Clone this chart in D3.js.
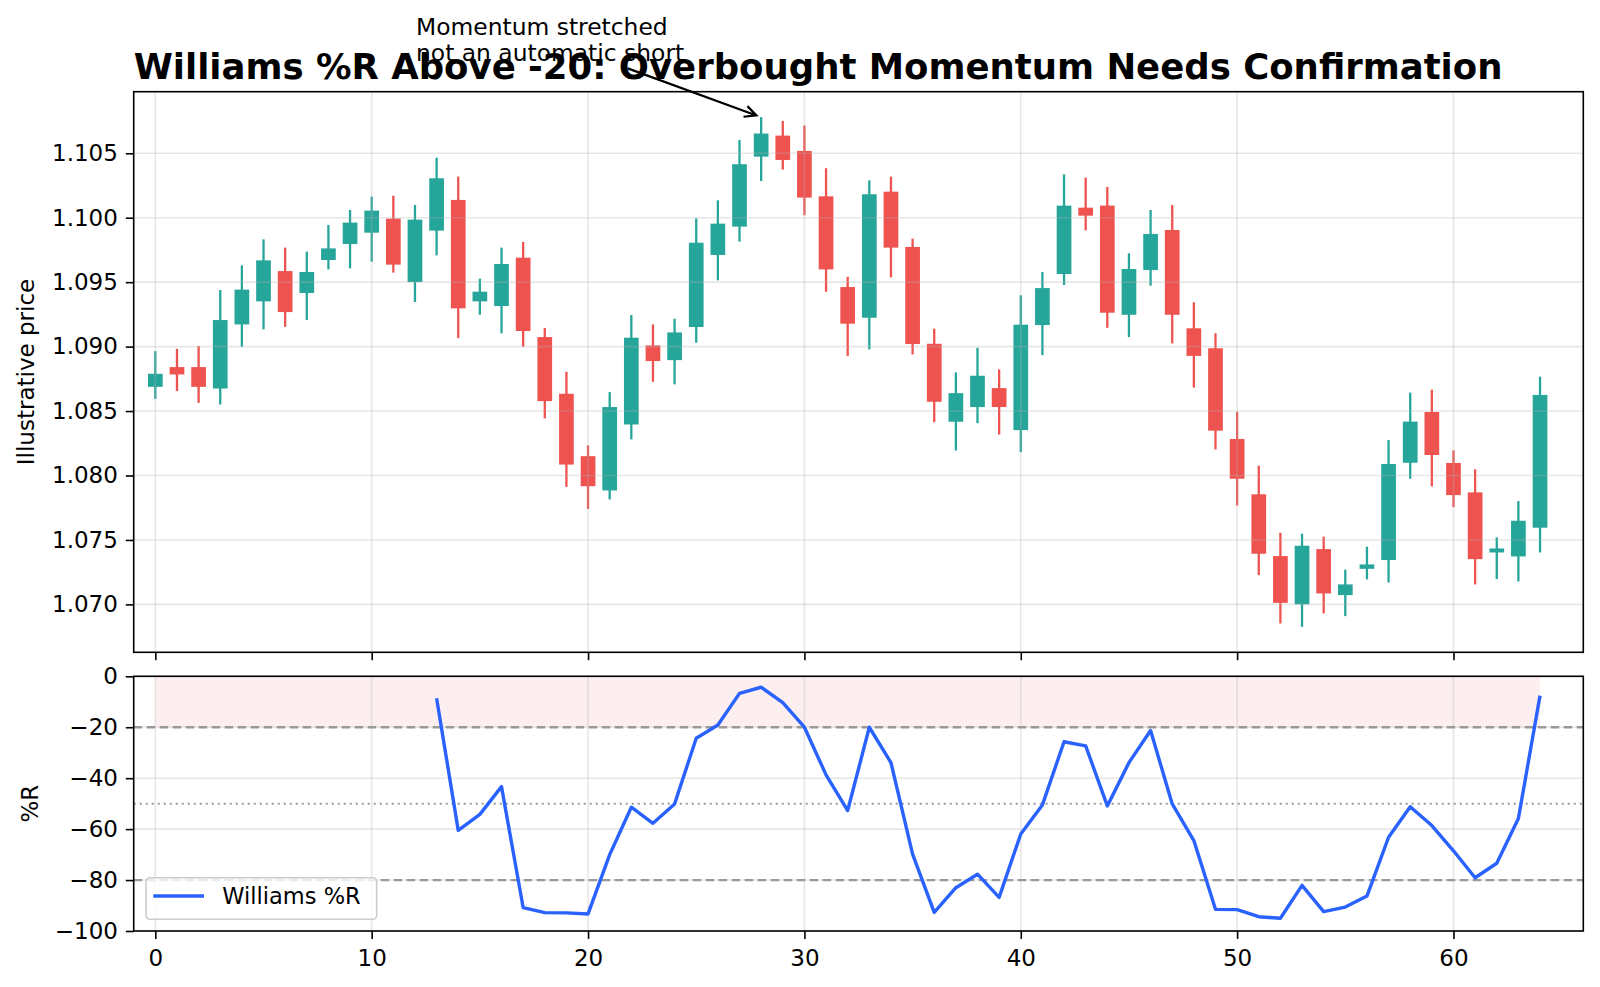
<!DOCTYPE html>
<html>
<head>
<meta charset="utf-8">
<script src="https://cdn.jsdelivr.net/npm/d3@7"></script>
<style>
  body { margin:0; background:#fff; }
  svg { display:block; }
  text { font-family:"DejaVu Sans", sans-serif; fill:#000; }
</style>
</head>
<body>
<div id="chart"></div>
<script>
// candles, one per bar index 0..64
const opens  = [1.08688,1.08841,1.08841,1.08675,1.09172,1.09351,1.09586,1.09416,1.09672,1.09796,
                1.09884,1.09993,1.09501,1.09900,1.10138,1.09351,1.09315,1.09690,1.09074,1.08634,
                1.08150,1.07884,1.08396,1.09009,1.08895,1.09152,1.09711,1.09931,1.10474,1.10637,
                1.10518,1.10166,1.09462,1.09224,1.10202,1.09773,1.09022,1.08417,1.08531,1.08678,
                1.08352,1.09167,1.09563,1.10078,1.10094,1.09247,1.09594,1.09905,1.09142,1.08987,
                1.08283,1.07854,1.07375,1.07000,1.07429,1.07072,1.07276,1.07344,1.08099,1.08493,
                1.08097,1.07869,1.07403,1.07372,1.07595];
const highs  = [1.08965,1.08983,1.09004,1.09439,1.09630,1.09832,1.09768,1.09737,1.09944,1.10060,
                1.10164,1.10171,1.10099,1.10466,1.10319,1.09527,1.09768,1.09812,1.09144,1.08805,
                1.08233,1.08647,1.09245,1.09172,1.09216,1.09995,1.10135,1.10604,1.10780,1.10751,
                1.10715,1.10384,1.09542,1.10290,1.10319,1.09837,1.09139,1.08800,1.08991,1.08823,
                1.09398,1.09579,1.10337,1.10311,1.10239,1.09724,1.10060,1.10099,1.09344,1.09104,
                1.08493,1.08076,1.07556,1.07548,1.07525,1.07269,1.07447,1.08275,1.08643,1.08666,
                1.08195,1.08048,1.07520,1.07802,1.08767];
const lows   = [1.08595,1.08655,1.08564,1.08551,1.08999,1.09134,1.09154,1.09206,1.09599,1.09607,
                1.09659,1.09574,1.09346,1.09708,1.09066,1.09247,1.09103,1.08999,1.08443,1.07912,
                1.07741,1.07814,1.08280,1.08727,1.08707,1.09030,1.09514,1.09814,1.10285,1.10373,
                1.10019,1.09426,1.08927,1.08978,1.09537,1.08939,1.08414,1.08194,1.08406,1.08318,
                1.08181,1.08934,1.09478,1.09902,1.09146,1.09074,1.09473,1.09025,1.08682,1.08203,
                1.07768,1.07227,1.06852,1.06826,1.06930,1.06909,1.07194,1.07170,1.07975,1.07916,
                1.07755,1.07155,1.07196,1.07178,1.07403];
const closes = [1.08789,1.08784,1.08688,1.09206,1.09442,1.09669,1.09268,1.09579,1.09762,1.09962,
                1.10055,1.09636,1.09985,1.10306,1.09297,1.09426,1.09641,1.09121,1.08577,1.08085,
                1.07917,1.08531,1.09069,1.08888,1.09110,1.09806,1.09954,1.10415,1.10653,1.10448,
                1.10156,1.09599,1.09178,1.10182,1.09768,1.09020,1.08572,1.08639,1.08774,1.08531,
                1.09170,1.09454,1.10094,1.10016,1.09263,1.09602,1.09874,1.09247,1.08928,1.08348,
                1.07975,1.07393,1.07012,1.07455,1.07085,1.07155,1.07310,1.08089,1.08418,1.08159,
                1.07848,1.07351,1.07434,1.07649,1.08625];

// williams %R, undefined during the 14 bar warm-up
const pctR = [null,null,null,null,null,null,null,null,null,null,null,null,null,
              -8.6,-60.5,-54.2,-43.3,-90.8,-92.8,-92.9,-93.3,-70.0,-51.4,-57.7,-50.1,
              -24.3,-19.1,-6.7,-4.3,-10.3,-20.0,-38.7,-52.7,-20.0,-33.9,-69.8,-92.7,
              -83.0,-77.7,-86.8,-61.9,-50.5,-25.7,-27.3,-50.9,-33.9,-21.3,-50.1,-64.5,
              -91.5,-91.6,-94.4,-95.0,-82.1,-92.4,-90.6,-86.3,-63.2,-51.2,-58.6,-68.5,
              -79.1,-73.4,-55.8,-7.6];

const xTicks = [0,10,20,30,40,50,60];
const priceTicks = [1.070,1.075,1.080,1.085,1.090,1.095,1.100,1.105];
const rTicks = [0,-20,-40,-60,-80,-100];
const dashedLevels = [-20,-80];
const dottedLevels = [-50];
const zoneBand = [-20, 0];

const titleText = "Williams %R Above -20: Overbought Momentum Needs Confirmation";
const noteLines = ["Momentum stretched","not an automatic short"];
const noteBar = 28;
const seriesName = "Williams %R";
const priceLabel = "Illustrative price";
const rLabel = "%R";

const W = 1600, H = 987;
const L = 133.7, R = 1583.3;
const top1 = 91.7, bot1 = 652.3, top2 = 676.3, bot2 = 931;
const fs = 23, tick = 7.9;
const UP = "#26a69a", DOWN = "#ef5350", LINE = "#2962ff";

const bars = opens.map((o,i) => ({i:i, o:o, h:highs[i], l:lows[i], c:closes[i]}));

const svg = d3.select("#chart").append("svg").attr("width",W).attr("height",H);

const x = d3.scaleLinear().domain([-1, bars.length+1]).range([L,R]);
const lo = d3.min(lows), hi = d3.max(highs), pad = (hi-lo)*0.05;
const yP = d3.scaleLinear().domain([lo-pad, hi+pad]).range([bot1, top1]);
const yR = d3.scaleLinear().domain([-100, 0]).range([bot2, top2]);

svg.append("defs").append("clipPath").attr("id","clipR")
  .append("rect").attr("x",L).attr("y",top2).attr("width",R-L).attr("height",bot2-top2);

function grid(g, yScale, yVals, y0, y1) {
  g.selectAll(".vg").data(xTicks).enter().append("line")
    .attr("x1",d=>x(d)).attr("x2",d=>x(d)).attr("y1",y0).attr("y2",y1);
  g.selectAll(".hg").data(yVals).enter().append("line")
    .attr("x1",L).attr("x2",R).attr("y1",d=>yScale(d)).attr("y2",d=>yScale(d));
  g.selectAll("line").style("stroke","#b0b0b0").style("stroke-opacity",0.3).style("stroke-width",1.6);
}

function styleAxis(g) {
  g.select(".domain").remove();
  g.selectAll(".tick line").style("stroke","#000").style("stroke-width",1.6);
  g.selectAll(".tick text").style("font-size",fs+"px").style("font-family","DejaVu Sans").attr("fill","#000");
}

// ---- price panel
const bw = 0.68*(x(1)-x(0));
const pc = svg.append("g").attr("id","candles");
pc.selectAll(".wick").data(bars).enter().append("line")
  .attr("class","wick")
  .attr("x1",d=>x(d.i)).attr("x2",d=>x(d.i))
  .attr("y1",d=>yP(d.h)).attr("y2",d=>yP(d.l))
  .style("stroke",d=>d.c>=d.o?UP:DOWN).style("stroke-width",2.3);
pc.selectAll(".body").data(bars).enter().append("rect")
  .attr("class","body")
  .attr("x",d=>x(d.i)-bw/2).attr("width",bw)
  .attr("y",d=>yP(Math.max(d.o,d.c)))
  .attr("height",d=>Math.max(2.2, Math.abs(yP(d.o)-yP(d.c))))
  .style("fill",d=>d.c>=d.o?UP:DOWN);

grid(svg.append("g"), yP, priceTicks, top1, bot1);

svg.append("g").attr("transform","translate("+L+",0)")
  .call(d3.axisLeft(yP).tickValues(priceTicks).tickFormat(d3.format(".3f")).tickSize(tick).tickPadding(tick))
  .call(styleAxis);
svg.append("g").attr("transform","translate(0,"+bot1+")")
  .call(d3.axisBottom(x).tickValues(xTicks).tickFormat("").tickSize(tick))
  .call(styleAxis);
svg.append("rect").attr("x",L).attr("y",top1).attr("width",R-L).attr("height",bot1-top1)
  .style("fill","none").style("stroke","#000").style("stroke-width",1.6);

// ---- %R panel
const rData = pctR.map((v,i)=>({i:i, v:v}));
svg.append("path").datum(rData)
  .attr("d", d3.area().x(d=>x(d.i)).y0(yR(zoneBand[0])).y1(yR(zoneBand[1])))
  .style("fill","#e53935").style("fill-opacity",0.08);

grid(svg.append("g"), yR, rTicks, top2, bot2);

svg.selectAll(".dl").data(dashedLevels).enter().append("line")
  .attr("x1",L).attr("x2",R).attr("y1",d=>yR(d)).attr("y2",d=>yR(d))
  .style("stroke","#999").style("stroke-width",2.3).style("stroke-dasharray","8.5,4.5");
svg.selectAll(".ml").data(dottedLevels).enter().append("line")
  .attr("x1",L).attr("x2",R).attr("y1",d=>yR(d)).attr("y2",d=>yR(d))
  .style("stroke","#999").style("stroke-width",2).style("stroke-dasharray","2,4");

svg.append("path").datum(rData)
  .attr("clip-path","url(#clipR)")
  .attr("d", d3.line().defined(d=>d.v!==null).x(d=>x(d.i)).y(d=>yR(d.v)))
  .style("fill","none").style("stroke",LINE).style("stroke-width",3.4)
  .style("stroke-linejoin","round");

svg.append("g").attr("transform","translate("+L+",0)")
  .call(d3.axisLeft(yR).tickValues(rTicks).tickFormat(d3.format("d")).tickSize(tick).tickPadding(tick))
  .call(styleAxis);
svg.append("g").attr("transform","translate(0,"+bot2+")")
  .call(d3.axisBottom(x).tickValues(xTicks).tickSize(tick).tickPadding(10.5))
  .call(styleAxis);
svg.append("rect").attr("x",L).attr("y",top2).attr("width",R-L).attr("height",bot2-top2)
  .style("fill","none").style("stroke","#000").style("stroke-width",1.6);

// legend
const lg = svg.append("g").attr("transform","translate(146,877.7)");
lg.append("rect").attr("width",230.7).attr("height",41.6).attr("rx",4)
  .style("fill","#fff").style("fill-opacity",0.8).style("stroke","#ccc").style("stroke-width",1.6);
lg.append("line").attr("x1",7.3).attr("x2",58).attr("y1",18.3).attr("y2",18.3)
  .style("stroke",LINE).style("stroke-width",3.4);
lg.append("text").attr("x",76.3).attr("y",26.5).style("font-size","22.5px").text(seriesName);

// axis labels
svg.append("text").attr("transform","translate(34,"+((top1+bot1)/2)+") rotate(-90)")
  .attr("text-anchor","middle").style("font-size",fs+"px").text(priceLabel);
svg.append("text").attr("transform","translate(38,"+((top2+bot2)/2)+") rotate(-90)")
  .attr("text-anchor","middle").style("font-size",fs+"px").text(rLabel);

// title
svg.append("text").attr("x",L).attr("y",79.3)
  .style("font-size","35.5px").style("font-weight","bold").text(titleText);

// annotation with arrow
const note = svg.append("g");
note.selectAll("text").data(noteLines).enter().append("text")
  .attr("x",416).attr("y",(d,i)=>35+i*26)
  .style("font-size","23.4px").text(d=>d);
const bb = note.node().getBBox();
const cx = bb.x+bb.width/2, cy = bb.y+bb.height/2;
const tx = x(noteBar), ty = yP(highs[noteBar]);
let dx = tx-cx, dy = ty-cy;
const len = Math.hypot(dx,dy); dx/=len; dy/=len;
// leave the text box, then shrink a bit at both ends
const tOut = Math.min((bb.x+bb.width-cx)/Math.abs(dx), (bb.y+bb.height-cy)/Math.abs(dy)) + 4;
const sx = cx+dx*tOut, sy = cy+dy*tOut;
const ex = tx-dx*5, ey = ty-dy*5;
const ah = 13, aw = 0.45;
const ang = Math.atan2(dy,dx);
const p = d3.path();
p.moveTo(sx,sy); p.lineTo(ex,ey);
p.moveTo(ex-ah*Math.cos(ang-aw), ey-ah*Math.sin(ang-aw));
p.lineTo(ex,ey);
p.lineTo(ex-ah*Math.cos(ang+aw), ey-ah*Math.sin(ang+aw));
svg.append("path").attr("d",p.toString())
  .style("fill","none").style("stroke","#000").style("stroke-width",2.2);
</script>
</body>
</html>
